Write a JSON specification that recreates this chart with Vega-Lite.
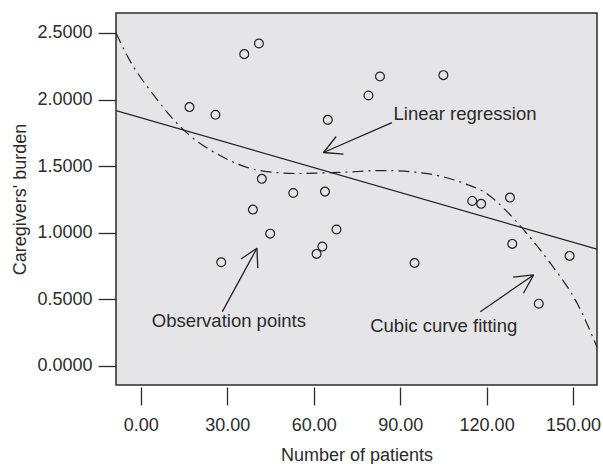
{
  "$schema": "https://vega.github.io/schema/vega-lite/v6.json",
  "width": 481,
  "height": 372,
  "autosize": {"type": "none"},
  "padding": {"left": 116, "top": 13, "right": 6, "bottom": 79},
  "background": "white",
  "view": {"fill": "#e5e5e7", "stroke": "#2b2b2b", "strokeWidth": 1.5},
  "config": {
    "font": "Liberation Sans",
    "axis": {
      "domain": false, "grid": false, "ticks": true, "tickSize": 18,
      "tickColor": "#2b2b2b", "tickWidth": 1.3,
      "labelFont": "Liberation Sans", "labelFontSize": 18, "labelColor": "#2b2b2b",
      "titleFont": "Liberation Sans", "titleFontSize": 18, "titleFontWeight": "normal", "titleColor": "#2b2b2b",
      "labelOverlap": false, "labelFlush": false
    },
    "axisX": {"offset": 2, "labelPadding": 11, "titlePadding": 12},
    "axisY": {"labelPadding": 6, "titlePadding": 7}
  },
  "datasets": {
    "points": [
      {"x": 16.9, "y": 1.943}, {"x": 25.9, "y": 1.885}, {"x": 35.9, "y": 2.341}, {"x": 41.0, "y": 2.421},
      {"x": 27.9, "y": 0.777}, {"x": 38.9, "y": 1.173}, {"x": 42.0, "y": 1.404}, {"x": 44.9, "y": 0.992},
      {"x": 52.9, "y": 1.298}, {"x": 61.0, "y": 0.840}, {"x": 63.0, "y": 0.895}, {"x": 63.9, "y": 1.308},
      {"x": 64.9, "y": 1.847}, {"x": 67.9, "y": 1.023}, {"x": 79.0, "y": 2.030}, {"x": 83.0, "y": 2.173},
      {"x": 95.0, "y": 0.772}, {"x": 105.0, "y": 2.183}, {"x": 115.0, "y": 1.238}, {"x": 118.1, "y": 1.216},
      {"x": 128.1, "y": 1.263}, {"x": 128.9, "y": 0.915}, {"x": 138.1, "y": 0.466}, {"x": 148.8, "y": 0.825}
    ],
    "regression": [
      {"x": -8.6, "y": 1.917}, {"x": 158.3, "y": 0.875}
    ],
    "cubic": [
      {"x": -8.6, "y": 2.50}, {"x": -4.9, "y": 2.336}, {"x": 4.4, "y": 2.035}, {"x": 14.2, "y": 1.785},
      {"x": 27.5, "y": 1.579}, {"x": 42.0, "y": 1.464}, {"x": 54.2, "y": 1.444}, {"x": 70.3, "y": 1.454},
      {"x": 84.2, "y": 1.466}, {"x": 98.1, "y": 1.447}, {"x": 112.0, "y": 1.371}, {"x": 120.7, "y": 1.283},
      {"x": 125.9, "y": 1.183}, {"x": 136.3, "y": 0.932}, {"x": 142.1, "y": 0.770}, {"x": 151.4, "y": 0.469},
      {"x": 158.3, "y": 0.14}
    ],
    "arrows": [
      {"x": 87.15, "y": 1.827, "x2": 63.4, "y2": 1.602},
      {"x": 63.4, "y": 1.602, "x2": 70.35, "y2": 1.589},
      {"x": 63.4, "y": 1.602, "x2": 67.8, "y2": 1.722},
      {"x": 28.3, "y": 0.406, "x2": 40.3, "y2": 0.883},
      {"x": 40.3, "y": 0.883, "x2": 34.8, "y2": 0.802},
      {"x": 40.3, "y": 0.883, "x2": 40.6, "y2": 0.733},
      {"x": 117.8, "y": 0.406, "x2": 136.3, "y2": 0.682},
      {"x": 136.3, "y": 0.682, "x2": 129.2, "y2": 0.665},
      {"x": 136.3, "y": 0.682, "x2": 132.8, "y2": 0.544}
    ],
    "labels": [
      {"x": 87.7, "y": 1.847, "text": "Linear regression"},
      {"x": 3.8, "y": 0.293, "text": "Observation points"},
      {"x": 79.6, "y": 0.256, "text": "Cubic curve fitting"}
    ]
  },
  "layer": [
    {
      "data": {"name": "points"},
      "mark": {"type": "point", "shape": "circle", "filled": false, "size": 78, "stroke": "#222222", "strokeWidth": 1.2, "opacity": 1},
      "encoding": {
        "x": {"field": "x", "type": "quantitative", "title": "Number of patients",
              "scale": {"domain": [-8.6, 158.3], "nice": false, "zero": false},
              "axis": {"values": [0, 30, 60, 90, 120, 150], "format": ".2f"}},
        "y": {"field": "y", "type": "quantitative", "title": "Caregivers' burden",
              "scale": {"domain": [-0.145, 2.65], "nice": false, "zero": false},
              "axis": {"values": [0, 0.5, 1, 1.5, 2, 2.5], "format": ".4f"}}
      }
    },
    {
      "data": {"name": "regression"},
      "mark": {"type": "line", "color": "#222222", "strokeWidth": 1.3, "clip": true},
      "encoding": {
        "x": {"field": "x", "type": "quantitative"},
        "y": {"field": "y", "type": "quantitative"}
      }
    },
    {
      "data": {"name": "cubic"},
      "mark": {"type": "line", "color": "#222222", "strokeWidth": 1.2, "interpolate": "monotone", "strokeDash": [11, 5, 2, 5], "clip": true},
      "encoding": {
        "x": {"field": "x", "type": "quantitative"},
        "y": {"field": "y", "type": "quantitative"}
      }
    },
    {
      "data": {"name": "arrows"},
      "mark": {"type": "rule", "color": "#222222", "strokeWidth": 1.3},
      "encoding": {
        "x": {"field": "x", "type": "quantitative"},
        "y": {"field": "y", "type": "quantitative"},
        "x2": {"field": "x2"},
        "y2": {"field": "y2"}
      }
    },
    {
      "data": {"name": "labels"},
      "mark": {"type": "text", "align": "left", "baseline": "alphabetic", "fontSize": 18.5, "font": "Liberation Sans", "color": "#2b2b2b"},
      "encoding": {
        "x": {"field": "x", "type": "quantitative"},
        "y": {"field": "y", "type": "quantitative"},
        "text": {"field": "text"}
      }
    }
  ]
}
